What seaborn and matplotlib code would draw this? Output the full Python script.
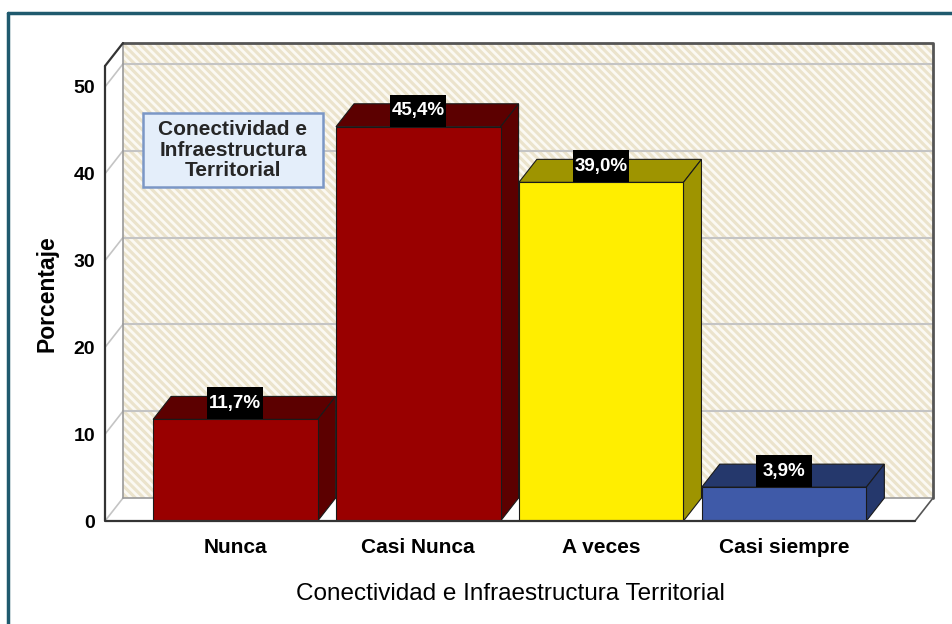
import matplotlib
matplotlib.use("Agg")
import matplotlib.pyplot as plt
from matplotlib.patches import Polygon, Rectangle
from matplotlib.lines import Line2D
from matplotlib import font_manager
import seaborn as sns
import pandas as pd

# ---- data ----
categories = ["Nunca", "Casi Nunca", "A veces", "Casi siempre"]
values = [11.7, 45.4, 39.0, 3.9]
value_labels = ["11,7%", "45,4%", "39,0%", "3,9%"]
yticks = [0, 10, 20, 30, 40, 50]
front_colors = ["#990000", "#990000", "#ffee00", "#3f5aa8"]
dark_colors = ["#5c0000", "#5c0000", "#9e9400", "#25386c"]
x_title = "Conectividad e Infraestructura Territorial"
y_title = "Porcentaje"
box_text = "Conectividad e\nInfraestructura\nTerritorial"

sns.set_theme(style="white")
plt.rcParams["font.family"] = ["Liberation Sans", "DejaVu Sans"]
names = {f.name for f in font_manager.fontManager.ttflist}
narrow = "Liberation Sans Narrow" if "Liberation Sans Narrow" in names else "Liberation Sans"

W, H = 952, 624
fig = plt.figure(figsize=(W / 100, H / 100), dpi=100)
fig.patch.set_facecolor("white")

# front plane of the 3D box in pixels
px_left, px_right, px_bottom, px_top = 105, 915, 521, 66
ax = fig.add_axes([px_left / W, (H - px_bottom) / H,
                   (px_right - px_left) / W, (px_bottom - px_top) / H])

df = pd.DataFrame({"cat": categories, "val": values})
sns.barplot(data=df, x="cat", y="val", hue="cat", palette=front_colors,
            width=0.9, legend=False, ax=ax, edgecolor="#1a1a1a", linewidth=0.8,
            saturation=1, zorder=5)
bars = [pp for pp in ax.patches if isinstance(pp, Rectangle)]

xlim = (-0.713, 3.716)
ymax = 52.4
ax.set_xlim(*xlim)
ax.set_ylim(0, ymax)
sx = (xlim[1] - xlim[0]) / (px_right - px_left)
sy = ymax / (px_bottom - px_top)
dx, dy = 18 * sx, 23 * sy
x0, x1 = xlim

for s in ax.spines.values():
    s.set_visible(False)
ax.set_facecolor("none")

# back wall
ax.add_patch(Rectangle((x0 + dx, dy), x1 - x0, ymax, fc="#ebe3cc", ec="none",
                       zorder=0, clip_on=False))
plt.rcParams["hatch.linewidth"] = 2.0
ax.add_patch(Rectangle((x0 + dx, dy), x1 - x0, ymax, fc="none", ec="#fbf9f3",
                       hatch="\\\\\\\\", lw=0, zorder=0.5, clip_on=False))
# left wall
ax.add_patch(Polygon([(x0, 0), (x0 + dx, dy), (x0 + dx, ymax + dy), (x0, ymax)],
                     closed=True, fc="white", ec="none", zorder=0.6, clip_on=False))
# floor
ax.add_patch(Polygon([(x0, 0), (x1, 0), (x1 + dx, dy), (x0 + dx, dy)],
                     closed=True, fc="white", ec="none", zorder=0.6, clip_on=False))
grid_c = "#c4c4c4"
for t in yticks[1:]:
    ax.add_line(Line2D([x0 + dx, x1 + dx], [t + dy, t + dy], color=grid_c, lw=1.5,
                       zorder=1, clip_on=False))
for t in yticks:
    ax.add_line(Line2D([x0, x0 + dx], [t, t + dy], color=grid_c, lw=1.2,
                       zorder=1, clip_on=False))
ax.add_line(Line2D([x0 + dx, x1 + dx], [dy, dy], color="#9a9a9a", lw=1.2, zorder=1.1, clip_on=False))
ax.add_line(Line2D([x0 + dx, x0 + dx], [dy, ymax + dy], color="#9a9a9a", lw=1.2, zorder=1.1, clip_on=False))
ax.add_line(Line2D([x1, x1 + dx], [0, dy], color="#555555", lw=1.2, zorder=1.1, clip_on=False))
ax.add_line(Line2D([x0 + dx, x1 + dx, x1 + dx], [ymax + dy, ymax + dy, dy],
                   color="#555555", lw=2, zorder=1.2, clip_on=False))
ax.add_line(Line2D([x0, x0, x1], [ymax, 0, 0], color="#333333", lw=1.6, zorder=6, clip_on=False))
ax.add_line(Line2D([x0, x0 + dx], [ymax, ymax + dy], color="#333333", lw=1.6, zorder=6, clip_on=False))

# 3D faces of bars and value labels
for p, dc, lab in zip(bars, dark_colors, value_labels):
    bx, bw, bh = p.get_x(), p.get_width(), p.get_height()
    top = Polygon([(bx, bh), (bx + bw, bh), (bx + bw + dx, bh + dy), (bx + dx, bh + dy)],
                  closed=True, fc=dc, ec="#1a1a1a", lw=0.8, zorder=4)
    side = Polygon([(bx + bw, 0), (bx + bw + dx, dy), (bx + bw + dx, bh + dy), (bx + bw, bh)],
                   closed=True, fc=dc, ec="#1a1a1a", lw=0.8, zorder=4)
    ax.add_patch(top)
    ax.add_patch(side)
    cx = bx + bw / 2
    ax.add_patch(Rectangle((cx - 28 * sx, bh), 56 * sx, 32 * sy, fc="black", ec="none",
                           zorder=7, clip_on=False))
    ax.text(cx, bh + 16 * sy, lab, color="white", fontsize=13.5, fontweight="bold",
            family=narrow, ha="center", va="center", zorder=8, clip_on=False)

ax.set_yticks(yticks)
ax.set_yticklabels([str(t) for t in yticks], fontsize=14, fontweight="bold", family=narrow)
ax.set_xticks(range(len(categories)))
ax.set_xticklabels(categories, fontsize=15, fontweight="bold")
ax.tick_params(axis="y", length=0, pad=7, colors="black")
ax.tick_params(axis="x", length=0, pad=12, colors="black")
ax.set_xlabel(x_title, fontsize=17.5, labelpad=19, color="black")
ax.set_ylabel(y_title, fontsize=16.5, fontweight="bold", labelpad=11, color="black")

# annotation box
bx0, by0, bw_, bh_ = 143, 113, 180, 74
fig.patches.append(Rectangle((bx0 / W, 1 - (by0 + bh_) / H), bw_ / W, bh_ / H,
                             transform=fig.transFigure, fc="#e4eefa", ec="#7b97c6",
                             lw=1.8, zorder=10))
fig.text((bx0 + bw_ / 2) / W, 1 - (by0 + bh_ / 2) / H, box_text, ha="center", va="center",
         fontsize=15, fontweight="bold", linespacing=1.1, zorder=11)

# outer frame (teal)
fig.add_artist(Line2D([8 / W, 1.0], [1 - 13 / H, 1 - 13 / H], transform=fig.transFigure,
                      color="#1f5a6e", lw=2.5))
fig.add_artist(Line2D([8 / W, 8 / W], [0, 1 - 13 / H], transform=fig.transFigure,
                      color="#1f5a6e", lw=2.5))

fig.savefig("out.png", dpi=100)
